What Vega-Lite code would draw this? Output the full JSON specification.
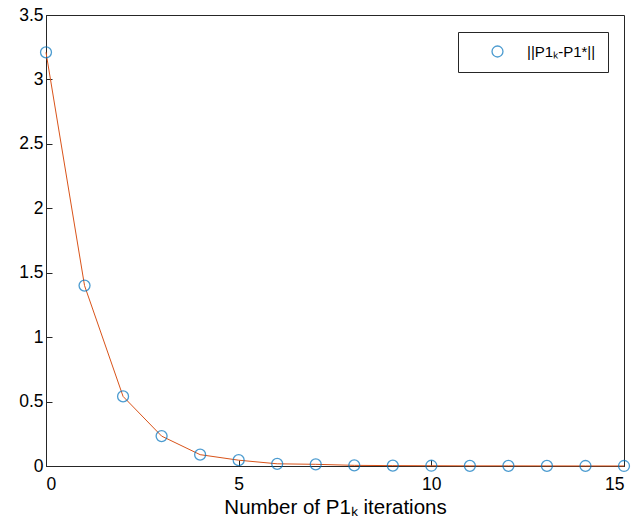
{
  "$schema": "https://vega.github.io/schema/vega-lite/v6.json",
  "width": 578,
  "height": 451,
  "autosize": {"type": "none"},
  "padding": {"left": 46, "top": 15, "right": 20, "bottom": 62},
  "background": "white",
  "config": {
    "view": {"stroke": "#262626", "strokeWidth": 1},
    "font": "Liberation Sans",
    "axis": {
      "grid": false,
      "domainColor": "#262626",
      "tickColor": "#262626",
      "tickSize": -6,
      "labelFontSize": 17.5,
      "labelColor": "#000000",
      "titleFontSize": 20.5,
      "titleFontWeight": "normal",
      "titleColor": "#000000"
    }
  },
  "data": {
    "values": [
      {"x": 0, "y": 3.21, "s": "||P1ₖ-P1*||"},
      {"x": 1, "y": 1.40, "s": "||P1ₖ-P1*||"},
      {"x": 2, "y": 0.54, "s": "||P1ₖ-P1*||"},
      {"x": 3, "y": 0.232, "s": "||P1ₖ-P1*||"},
      {"x": 4, "y": 0.088, "s": "||P1ₖ-P1*||"},
      {"x": 5, "y": 0.045, "s": "||P1ₖ-P1*||"},
      {"x": 6, "y": 0.017, "s": "||P1ₖ-P1*||"},
      {"x": 7, "y": 0.013, "s": "||P1ₖ-P1*||"},
      {"x": 8, "y": 0.005, "s": "||P1ₖ-P1*||"},
      {"x": 9, "y": 0.003, "s": "||P1ₖ-P1*||"},
      {"x": 10, "y": 0.002, "s": "||P1ₖ-P1*||"},
      {"x": 11, "y": 0.001, "s": "||P1ₖ-P1*||"},
      {"x": 12, "y": 0.001, "s": "||P1ₖ-P1*||"},
      {"x": 13, "y": 0.0005, "s": "||P1ₖ-P1*||"},
      {"x": 14, "y": 0.0003, "s": "||P1ₖ-P1*||"},
      {"x": 15, "y": 0.0002, "s": "||P1ₖ-P1*||"}
    ]
  },
  "encoding": {
    "x": {
      "field": "x", "type": "quantitative",
      "scale": {"domain": [0, 15], "nice": false},
      "axis": {"values": [0, 5, 10, 15], "title": "Number of P1ₖ iterations", "labelPadding": 15, "titlePadding": 5}
    },
    "y": {
      "field": "y", "type": "quantitative",
      "scale": {"domain": [0, 3.5], "nice": false},
      "axis": {"values": [0, 0.5, 1, 1.5, 2, 2.5, 3, 3.5], "format": "~g", "title": null, "labelPadding": 9}
    }
  },
  "layer": [
    {
      "mark": {"type": "line", "color": "#D95319", "strokeWidth": 1, "interpolate": "linear"},
      "encoding": {}
    },
    {
      "mark": {"type": "point", "shape": "circle", "filled": false, "strokeWidth": 1.3, "size": 120},
      "encoding": {
        "color": {
          "field": "s", "type": "nominal",
          "scale": {"range": ["#0072BD"]},
          "legend": {
            "title": null,
            "orient": "none",
            "legendX": 412,
            "legendY": 17,
            "strokeColor": "#262626",
            "fillColor": "white",
            "padding": 12,
            "labelFontSize": 15,
            "labelOffset": 22,
            "symbolSize": 120,
            "symbolStrokeWidth": 1.3,
            "symbolOffset": 20,
            "labelLimit": 300
          }
        }
      }
    }
  ]
}
